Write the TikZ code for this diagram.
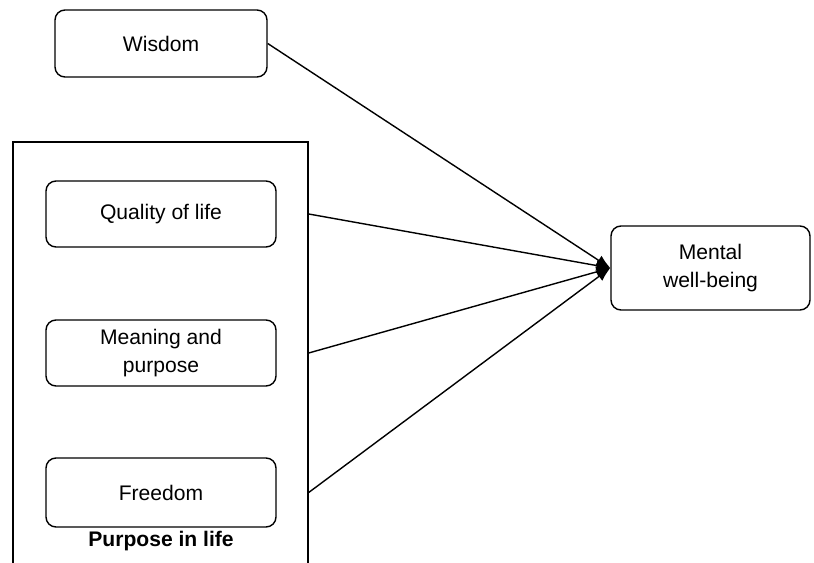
\documentclass[tikz,border=0pt]{standalone}
\usepackage{fontspec}
\setmainfont{Liberation Sans}
\usetikzlibrary{arrows.meta}
\tikzset{
  box/.style={draw, rounded corners=0.2cm, line width=0.8pt, minimum width=4.6cm, minimum height=1.32cm, align=center, font=\fontsize{12}{15.5}\selectfont},
  link/.style={line width=0.8pt, -{Latex[length=0.28cm,width=0.22cm]}}
}
\begin{document}
\begin{tikzpicture}
\useasboundingbox (0,0) rectangle (16.28,11.26);
\node[draw, line width=0.8pt, minimum width=5.9cm, minimum height=9.0cm] (purpose) at (3.21,3.92) {};
\node[box, minimum width=4.24cm, minimum height=1.34cm] (wisdom) at (3.22,10.39) {Wisdom};
\node[box] (quality) at (3.22,6.98) {Quality of life};
\node[box] (meaning) at (3.22,4.2) {Meaning and\\purpose};
\node[box, minimum height=1.38cm] (freedom) at (3.22,1.41) {Freedom};
\node[font=\fontsize{12}{14}\selectfont\bfseries] (plabel) at (3.22,0.44) {Purpose in life};
\node[box, minimum width=3.98cm, minimum height=1.68cm] (mental) at (14.21,5.9) {Mental\\well-being};
\draw[link] (wisdom.east) -- (mental.west);
\draw[link] (quality -| purpose.east) -- (mental.west);
\draw[link] (meaning -| purpose.east) -- (mental.west);
\draw[link] (freedom -| purpose.east) -- (mental.west);
\end{tikzpicture}
\end{document}
